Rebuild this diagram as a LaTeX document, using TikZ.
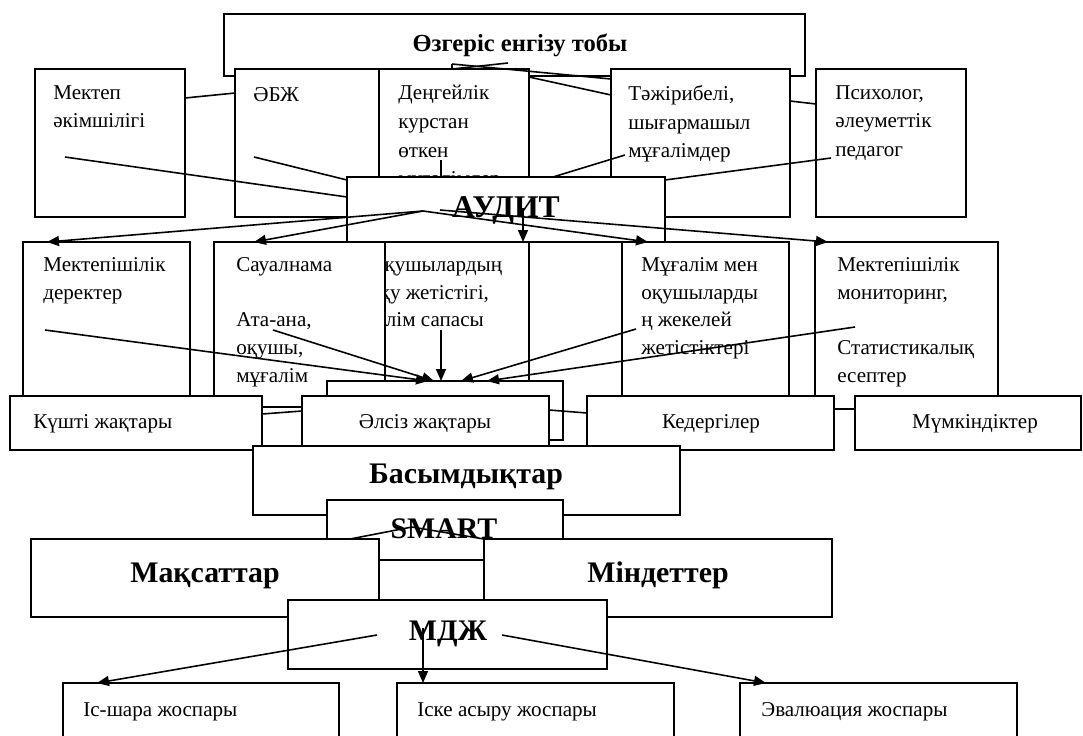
\documentclass[tikz,border=0pt]{standalone}
\usepackage{fontspec}
\setmainfont{Liberation Serif}
\usetikzlibrary{arrows.meta}
\tikzset{
  % ақ фонды рамка
  panel/.style={draw, fill=white, line width=0.9pt, inner sep=0pt, outer sep=0pt, anchor=north west},
  % рамка ішіндегі мәтін
  txt/.style={font=\fontsize{12}{15.8}\selectfont, align=left, inner sep=0pt, anchor=north west,
    execute at begin node={\rule{0pt}{9pt}}},
  % жоғарғы қатар мәтіні
  txtw/.style={txt, font=\fontsize{12}{16.3}\selectfont},
  % бір жолды жазу
  lbl/.style={font=\fontsize{12}{14}\selectfont, inner sep=0pt, anchor=base},
  % қалың тақырып
  ttl/.style={font=\fontsize{17}{20}\selectfont\bfseries, inner sep=0pt, anchor=base},
  ln/.style={line width=0.9pt},
  arr/.style={ln, -{Triangle[length=0.24cm, width=0.2cm]}},
}
% рамка: аты, x1, y1, x2, y2
\newcommand{\boxat}[5]{\node[panel, minimum width={(#4-#2)*0.02cm}, minimum height={(#5-#3)*0.02cm}] (#1) at (#2,#3) {};}

\begin{document}
\begin{tikzpicture}[x=0.02cm, y=-0.02cm]
\clip (0,0) rectangle (1083,735);

% Өзгеріс енгізу тобы
\boxat{ozg}{224}{14}{805}{76}
\node[ttl, font=\fontsize{14}{17}\selectfont\bfseries] (ozg-t) at (520,51) {Өзгеріс енгізу тобы};

% топ мүшелері
\boxat{ekim}{35}{69}{185}{217}
\node[txtw] (ekim-t) at (53,85) {Мектеп\\әкімшілігі};
\boxat{abzh}{235}{69}{385}{217}
\node[txtw] (abzh-t) at (253,85) {ӘБЖ};
\boxat{deng}{379}{69}{529}{217}
\node[txtw] (deng-t) at (398,85) {Деңгейлік\\курстан\\өткен\\мұғалімдер};
\boxat{taj}{611}{69}{790}{217}
\node[txtw] (taj-t) at (628,85) {Тәжірибелі,\\шығармашыл\\мұғалімдер};
\boxat{psy}{816}{69}{966}{217}
\node[txtw] (psy-t) at (835,85) {Психолог,\\әлеуметтік\\педагог};

\draw[ln] (452,64) -- (452,69);
\draw[ln] (452,64) -- ([shift={(0,10)}]taj.north west);
\draw[ln] (452,69) -- (508,63);
\draw[ln] ([shift={(0,8)}]deng.north east) -- ([shift={(0,26)}]taj.north west);
\draw[ln] ([shift={(0,29)}]ekim.north east) -- ([shift={(0,24)}]abzh.north west);
\draw[ln] ([shift={(0,32)}]taj.north east) -- ([shift={(0,35)}]psy.north west);

% АУДИТ
\boxat{audit}{347}{177}{665}{242}
\node[ttl, font=\fontsize{18}{21}\selectfont\bfseries] (audit-t) at (506,217) {АУДИТ};

\draw[ln] (65,157) -- ([shift={(0,20)}]audit.north west);
\draw[ln] (254,157) -- ([shift={(0,3)}]audit.north west);
\draw[ln] (441,160) -- ([shift={(94,0)}]audit.north west);
\draw[ln] (625,155) -- ([shift={(206,0)}]audit.north west);
\draw[ln] (831,158) -- ([shift={(0,3)}]audit.north east);

% дереккөздер
\boxat{dere}{23}{242}{190}{430}
\node[txt] (dere-t) at (43,257) {Мектепішілік\\деректер};
\boxat{oqu}{357}{242}{529}{430}
\node[txt] (oqu-t) at (369,257) {Оқушылардың\\оқу жетістігі,\\білім сапасы};
\boxat{saual}{214}{242}{385}{407}
\node[txt] (saual-t) at (236,257) {Сауалнама\\ \\Ата-ана,\\оқушы,\\мұғалім};
\boxat{mug}{622}{242}{789}{430}
\node[txt] (mug-t) at (641,257) {Мұғалім мен\\оқушыларды\\ң жекелей\\жетістіктері};
\boxat{mon}{815}{242}{998}{409}
\node[txt] (mon-t) at (837,257) {Мектепішілік\\мониторинг,\\ \\Статистикалық\\есептер};

\draw[arr] (423,211) -- ([shift={(24,0)}]dere.north west);
\draw[arr] (423,211) -- ([shift={(40,0)}]saual.north west);
\draw[arr] (523,208) -- ([shift={(166,0)}]oqu.north west);
\draw[arr] (423,211) -- ([shift={(26,0)}]mug.north west);
\draw[arr] (440,210) -- ([shift={(13,0)}]mon.north west);

% SWOT
\boxat{swot}{327}{381}{563}{440}
\draw[arr] (45,330) -- ([shift={(101,0)}]swot.north west);
\draw[arr] (273,330) -- ([shift={(107,0)}]swot.north west);
\draw[arr] (441,330) -- ([shift={(114,0)}]swot.north west);
\draw[arr] (636,329) -- ([shift={(134,0)}]swot.north west);
\draw[arr] (855,327) -- ([shift={(160,0)}]swot.north west);

\boxat{kush}{10}{396}{262}{450}
\node[lbl, anchor=base west] (kush-t) at (33,428) {Күшті жақтары};
\boxat{alsiz}{302}{396}{549}{450}
\node[lbl] (alsiz-t) at (425,428) {Әлсіз жақтары};
\boxat{keder}{587}{396}{834}{450}
\node[lbl] (keder-t) at (711,428) {Кедергілер};
\boxat{mumk}{855}{396}{1081}{450}
\node[lbl] (mumk-t) at (975,428) {Мүмкіндіктер};

\draw[ln] ([shift={(0,18)}]kush.north east) -- ([shift={(0,15)}]alsiz.north west);
\draw[ln] ([shift={(0,14)}]alsiz.north east) -- ([shift={(0,17)}]keder.north west);

% Басымдықтар, SMART
\boxat{basym}{253}{446}{680}{515}
\node[ttl] (basym-t) at (466,483) {Басымдықтар};
\boxat{smart}{327}{500}{563}{560}
\node[ttl] (smart-t) at (444,538) {SMART};

\boxat{maks}{31}{539}{379}{617}
\node[ttl] (maks-t) at (205,582) {Мақсаттар};
\boxat{mind}{484}{539}{832}{617}
\node[ttl] (mind-t) at (658,582) {Міндеттер};

\draw[ln] ([shift={(-29,0)}]maks.north east) -- (412,527) -- (mind.north west);

% МДЖ
\boxat{mdzh}{288}{600}{607}{669}
\node[ttl] (mdzh-t) at (448,640) {МДЖ};

\boxat{issh}{63}{683}{339}{760}
\node[lbl, anchor=base west] (issh-t) at (83,716) {Іс-шара жоспары};
\boxat{iske}{397}{683}{674}{760}
\node[lbl, anchor=base west] (iske-t) at (417,716) {Іске асыру жоспары};
\boxat{eval}{740}{683}{1017}{760}
\node[lbl, anchor=base west] (eval-t) at (761,716) {Эвалюация жоспары};

\draw[arr] (377,635) -- ([shift={(34,0)}]issh.north west);
\draw[arr] (423,628) -- ([shift={(26,0)}]iske.north west);
\draw[arr] (502,635) -- ([shift={(26,0)}]eval.north west);
\end{tikzpicture}
\end{document}
